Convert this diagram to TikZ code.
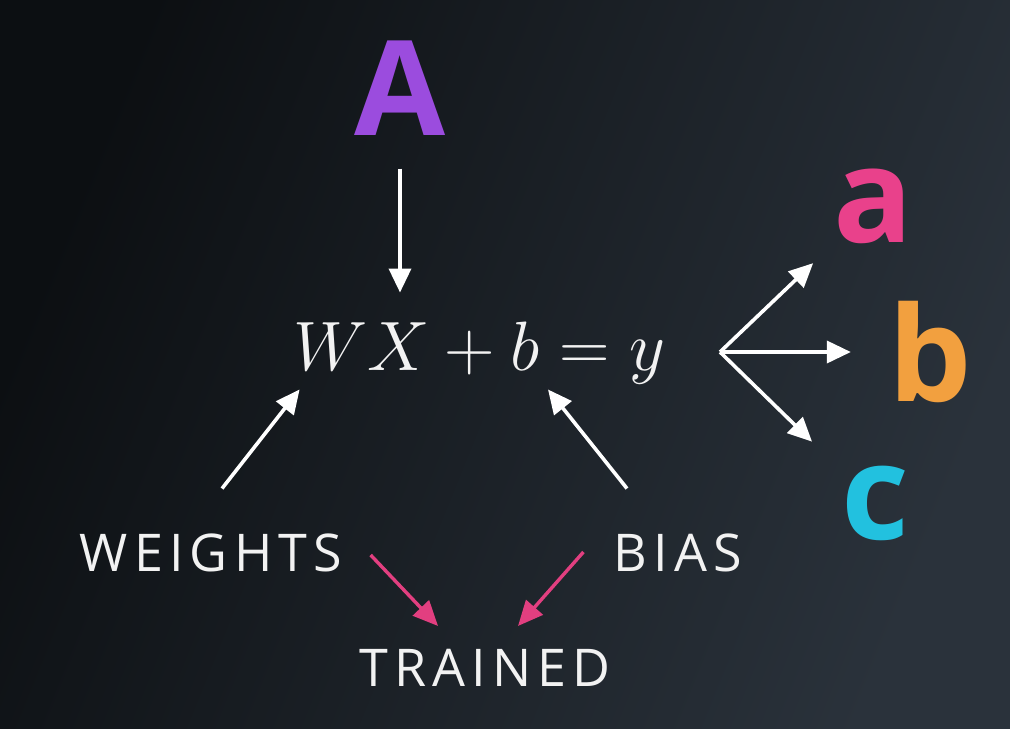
\documentclass[tikz,border=0pt]{standalone}
\usepackage{amsmath}
\usepackage{fontspec}
\newfontfamily\labelfont{Open Sans}
\newfontfamily\spacedfont[LetterSpace=12]{Open Sans}
\usetikzlibrary{arrows.meta,positioning}

\definecolor{bgleft}{HTML}{0C0F12}
\definecolor{bgright}{HTML}{2A323B}
\definecolor{lblpurple}{HTML}{9B4CDE}
\definecolor{lblpink}{HTML}{E9418B}
\definecolor{lblorange}{HTML}{F2A03F}
\definecolor{lblcyan}{HTML}{22C1DF}
\definecolor{arrpink}{HTML}{E23F80}
\definecolor{txtwhite}{HTML}{F2F2F2}

\begin{document}
\begin{tikzpicture}[
    x=0.5pt, y=-0.5pt,
    big/.style={font=\labelfont\bfseries\fontsize{66}{70}\selectfont,inner sep=0pt},
    word/.style={font=\spacedfont\fontsize{26}{30}\selectfont,text=txtwhite,inner sep=0pt},
    warr/.style={-{Triangle[length=12pt,width=11pt]},line width=1.8pt,white},
    parr/.style={-{Triangle[length=12.5pt,width=11pt]},line width=1.7pt,arrpink},
]
% background, same size as the reference
\shade[top color=bgleft,bottom color=bgright,shading angle=68] (0,0) rectangle (1010,728);
\useasboundingbox (0,0) rectangle (1010,728);

% ===== the equation and its parts =====
\node[inner sep=0pt,text=txtwhite,font=\fontsize{24.88}{30}\selectfont] (eq) at (479,353) {\scalebox{1.405}{$WX+b=y$}};
\node[big,text=lblpurple] (A) at (400,88) {A};
\node[word] (weights) at (211,553) {WEIGHTS};
\node[word] (bias) at (678,553) {BIAS};
\node[word] (trained) at (485,668) {TRAINED};

% outputs on the right
\node[big,text=lblpink] (a) at (873,206) {a};
\node[big,text=lblorange] (b) at (930,352) {b};
\node[big,text=lblcyan] (c) at (875,503) {c};
\coordinate (hub) at (720,352);

% ===== arrows =====
\draw[warr,shorten <=16.5pt,shorten >=14.5pt] (A.south) -- (A.south |- eq.north);
\draw[warr] ([xshift=5.5pt,yshift=22.5pt]weights.north) -- ([shift={(3.5pt,-2.5pt)}]eq.south west);
\draw[warr] ([xshift=-25.5pt,yshift=22.5pt]bias.north) -- ([shift={(34.5pt,-2.5pt)}]eq.south);
\draw[warr,shorten >=14pt] (hub) -- (a);
\draw[warr,shorten >=18.5pt] (hub) -- (b);
\draw[warr,shorten >=20pt] (hub) -- (c);

\draw[parr] ([shift={(14pt,-1pt)}]weights.east) -- ([shift={(-23.5pt,11.5pt)}]trained.north);
\draw[parr] ([shift={(-15pt,0.5pt)}]bias.west) -- ([shift={(16.5pt,11.5pt)}]trained.north);

\end{tikzpicture}
\end{document}
